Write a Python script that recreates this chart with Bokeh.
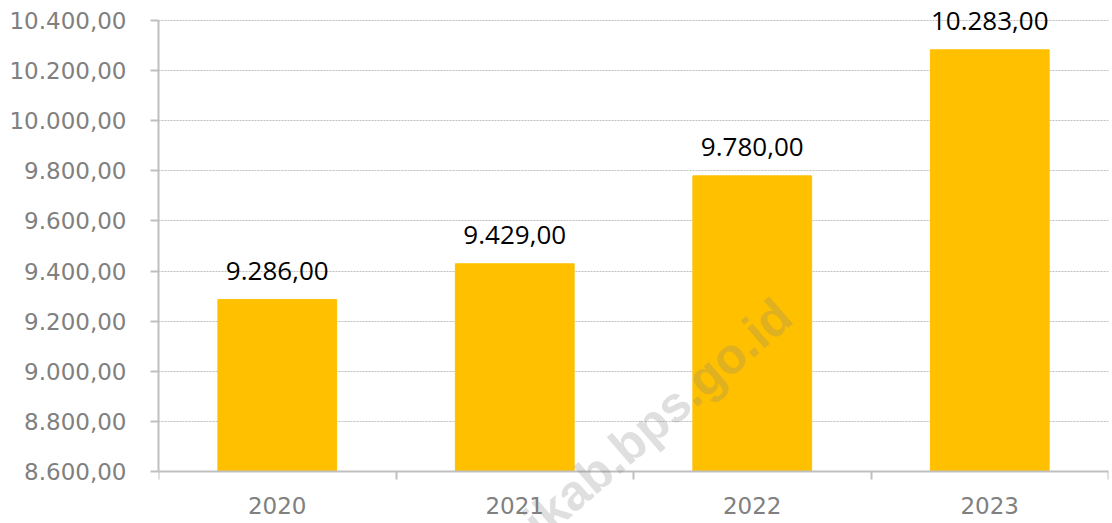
from bokeh.plotting import figure
from bokeh.models import FixedTicker, ColumnDataSource, Range1d, Label, LabelSet
from bokeh.core.properties import value
from bokeh.embed import file_html
from bokeh.resources import INLINE

years = ["2020", "2021", "2022", "2023"]
values = [9286, 9429, 9780, 10283]
y_ticks = [8600, 8800, 9000, 9200, 9400, 9600, 9800, 10000, 10200, 10400]
y_tick_labels = ["8.600,00", "8.800,00", "9.000,00", "9.200,00", "9.400,00",
                 "9.600,00", "9.800,00", "10.000,00", "10.200,00", "10.400,00"]
value_labels = ["9.286,00", "9.429,00", "9.780,00", "10.283,00"]

x_pos = [i + 0.5 for i in range(len(years))]
bounds = [float(i) for i in range(len(years) + 1)]

src = ColumnDataSource(dict(x=x_pos, top=values, label=value_labels))

# room above the top tick for value labels, and below the base for the x axis labels
p = figure(width=1112, height=523, output_backend="svg", toolbar_location=None,
           x_range=Range1d(0, len(years)), y_range=Range1d(8392.5, 10479.8),
           min_border_left=158, min_border_right=4, min_border_top=0, min_border_bottom=0)
p.outline_line_color = None
p.background_fill_color = "white"

p.vbar(x='x', top='top', bottom=y_ticks[0], width=0.5, fill_color="#FFC000",
       line_color="#FFC000", source=src)

labels = LabelSet(x='x', y='top', text='label', text_align='center', text_baseline='alphabetic',
                  y_offset=20, text_font=value("Open Sans"), text_font_size="26px",
                  text_color="black", source=src)
p.add_layout(labels)

wm = Label(x=784, y=308, x_units="canvas", y_units="canvas", text="ikab.bps.go.id",
           angle=41, angle_units="deg",
           text_align="right", text_baseline="alphabetic", text_font="Liberation Sans",
           text_font_style="bold", text_font_size="50px", text_color="#808080", text_alpha=0.25,
           level="overlay")
p.add_layout(wm)

p.xgrid.grid_line_color = None
p.ygrid.ticker = FixedTicker(ticks=y_ticks)
p.ygrid.grid_line_color = "#BFBFBF"
p.ygrid.grid_line_dash = "2 1"
p.ygrid.grid_line_width = 1

p.yaxis.ticker = FixedTicker(ticks=y_ticks)
p.yaxis.bounds = (y_ticks[0], y_ticks[-1])
p.yaxis.major_label_overrides = {t: l for t, l in zip(y_ticks, y_tick_labels)}
p.yaxis.major_label_text_font = "DejaVu Sans"
p.yaxis.major_label_text_font_size = "23px"
p.yaxis.major_label_text_color = "#808080"
p.yaxis.major_label_standoff = 24
p.yaxis.major_tick_out = 8
p.yaxis.major_tick_in = 0
p.yaxis.minor_tick_line_color = None
p.yaxis.axis_line_color = "#BFBFBF"
p.yaxis.axis_line_width = 2
p.yaxis.major_tick_line_color = "#BFBFBF"
p.yaxis.major_tick_line_width = 2

p.xaxis.fixed_location = y_ticks[0]
p.xaxis.ticker = FixedTicker(ticks=x_pos, minor_ticks=bounds)
p.xaxis.major_label_overrides = {t: l for t, l in zip(x_pos, years)}
p.xaxis.major_label_text_font = "DejaVu Sans"
p.xaxis.major_label_text_font_size = "23px"
p.xaxis.major_label_text_color = "#808080"
p.xaxis.major_label_standoff = 17
p.xaxis.major_tick_line_color = None
p.xaxis.major_tick_out = 0
p.xaxis.major_tick_in = 0
p.xaxis.minor_tick_out = 8
p.xaxis.minor_tick_in = 0
p.xaxis.minor_tick_line_color = "#BFBFBF"
p.xaxis.minor_tick_line_width = 2
p.xaxis.axis_line_color = "#BFBFBF"
p.xaxis.axis_line_width = 2

open("out.html", "w").write(file_html(p, INLINE))
